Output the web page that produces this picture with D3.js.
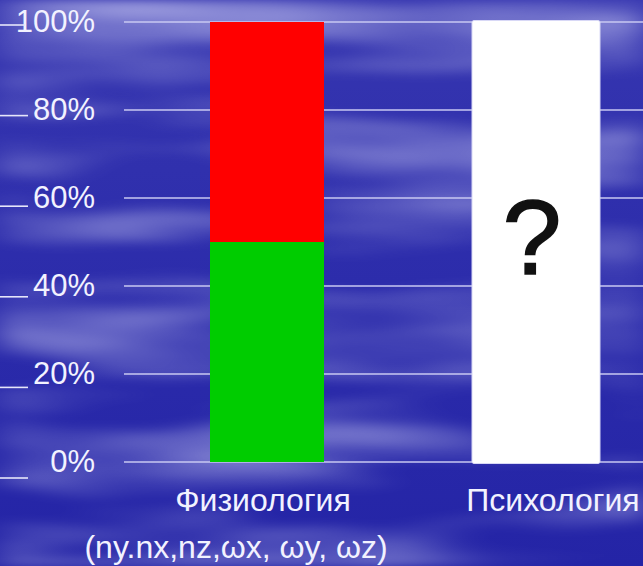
<!DOCTYPE html>
<html>
<head>
<meta charset="utf-8">
<script src="https://cdn.jsdelivr.net/npm/d3@7"></script>
<style>
  html, body { margin: 0; padding: 0; background: #2a2aa6; }
  svg { display: block; }
  text { font-family: "Liberation Sans", Arial, sans-serif; }
</style>
</head>
<body>
<svg id="chart" width="643" height="566"></svg>
<script>
// Share of each factor in the total, per discipline
const categories = ["Физиология", "Психология"];
const knownShare = [50, 0];      // green part
const unknownShareRed = [50, 0]; // red part
const undefinedShare = [0, 100]; // white bar, not yet measured
const tickValues = [0, 20, 40, 60, 80, 100];
const tickLabels = ["0%", "20%", "40%", "60%", "80%", "100%"];
const subtitle = "(ny.nx,nz,ωx, ωy, ωz)";
const unknownMark = "?";

const W = 643, H = 566;
const svg = d3.select("#chart");
const defs = svg.append("defs");

// Cloudy sky backdrop: stretched fractal noise turned into soft white streaks
const f = defs.append("filter").attr("id", "clouds")
  .attr("x", 0).attr("y", 0).attr("width", W).attr("height", H)
  .attr("filterUnits", "userSpaceOnUse");
f.append("feTurbulence").attr("type", "fractalNoise")
  .attr("baseFrequency", "0.0028 0.017").attr("numOctaves", 3).attr("seed", 5).attr("result", "n");
f.append("feColorMatrix").attr("in", "n").attr("type", "matrix")
  .attr("values", "0 0 0 0 0.78  0 0 0 0 0.78  0 0 0 0 1  1.9 0 0 0 -0.78").attr("result", "c");
f.append("feGaussianBlur").attr("in", "c").attr("stdDeviation", "16 4");

const sky = defs.append("linearGradient").attr("id", "sky").attr("x1", 0).attr("y1", 0).attr("x2", 0).attr("y2", 1);
sky.append("stop").attr("offset", 0).attr("stop-color", "#3636b0");
sky.append("stop").attr("offset", 0.5).attr("stop-color", "#2c2cab");
sky.append("stop").attr("offset", 1).attr("stop-color", "#2424a6");

svg.append("rect").attr("width", W).attr("height", H).attr("fill", "url(#sky)");
svg.append("rect").attr("width", W).attr("height", H).attr("fill", "#fff")
  .attr("filter", "url(#clouds)").attr("opacity", 0.6);

// Scales
const y = d3.scaleLinear().domain([0, 100]).range([462, 22]);
const yMark = d3.scaleLinear().domain([0, 100]).range([478, 25]); // short marks at the far left
const x = d3.scalePoint().domain(categories).range([267, 536]);
const barW = 114;
const placeholderW = 128;

// Gridlines
svg.append("g").selectAll("line").data(tickValues).join("line")
  .attr("x1", 124).attr("x2", W)
  .attr("y1", d => y(d)).attr("y2", d => y(d))
  .attr("stroke", "#c9c9f2").attr("stroke-width", 1.6);

// Left axis labels
const axis = d3.axisLeft(y).tickValues(tickValues)
  .tickFormat((d, i) => tickLabels[i]).tickSize(0).tickPadding(0);
const gA = svg.append("g").attr("transform", "translate(95,0)").call(axis);
gA.select(".domain").remove();
gA.selectAll("text").attr("fill", "#f2f2ff").attr("font-size", 31)
  .attr("font-family", "Liberation Sans, Arial, sans-serif");

svg.append("g").selectAll("line").data(tickValues).join("line")
  .attr("x1", 0).attr("x2", d => d === 100 ? 25 : 28)
  .attr("y1", d => yMark(d)).attr("y2", d => yMark(d))
  .attr("stroke", "#e6e6fa").attr("stroke-width", 1.6);

// Stacked bar: green then red
const rows = categories.map((c, i) => ({ cat: c, green: knownShare[i], red: unknownShareRed[i] }));
const series = d3.stack().keys(["green", "red"])(rows);
const fills = { green: "#00cc00", red: "#ff0000" };
svg.append("g").selectAll("g").data(series).join("g")
  .attr("fill", s => fills[s.key])
  .selectAll("rect").data(s => s.filter(d => d[1] - d[0] > 0)).join("rect")
  .attr("x", d => x(d.data.cat) - barW / 2)
  .attr("width", barW)
  .attr("y", d => y(d[1]))
  .attr("height", d => y(d[0]) - y(d[1]));

// Placeholder bar with a question mark
const ph = categories.map((c, i) => ({ cat: c, v: undefinedShare[i] })).filter(d => d.v > 0);
svg.append("g").selectAll("rect").data(ph).join("rect")
  .attr("x", d => x(d.cat) - placeholderW / 2)
  .attr("width", placeholderW)
  .attr("y", d => y(d.v) - 1.5)
  .attr("height", d => y(0) - y(d.v) + 3)
  .attr("rx", 2)
  .attr("fill", "#ffffff").attr("stroke", "#d8d8f6").attr("stroke-width", 1);
svg.append("g").selectAll("text").data(ph).join("text")
  .attr("x", d => x(d.cat) - 4)
  .attr("y", d => y(d.v / 2) + 32)
  .attr("text-anchor", "middle")
  .attr("font-size", 106)
  .attr("fill", "#111").attr("stroke", "#111").attr("stroke-width", 1.6)
  .text(unknownMark);

// Category labels
const labelShift = [-4, 17];
svg.append("g").selectAll("text").data(categories).join("text")
  .attr("x", (d, i) => x(d) + labelShift[i])
  .attr("y", 511)
  .attr("text-anchor", "middle")
  .attr("font-size", 32)
  .attr("fill", "#f2f2ff")
  .text(d => d);

svg.append("text")
  .attr("x", 236).attr("y", 558)
  .attr("text-anchor", "middle")
  .attr("font-size", 32)
  .attr("fill", "#f2f2ff")
  .text(subtitle);
</script>
</body>
</html>
